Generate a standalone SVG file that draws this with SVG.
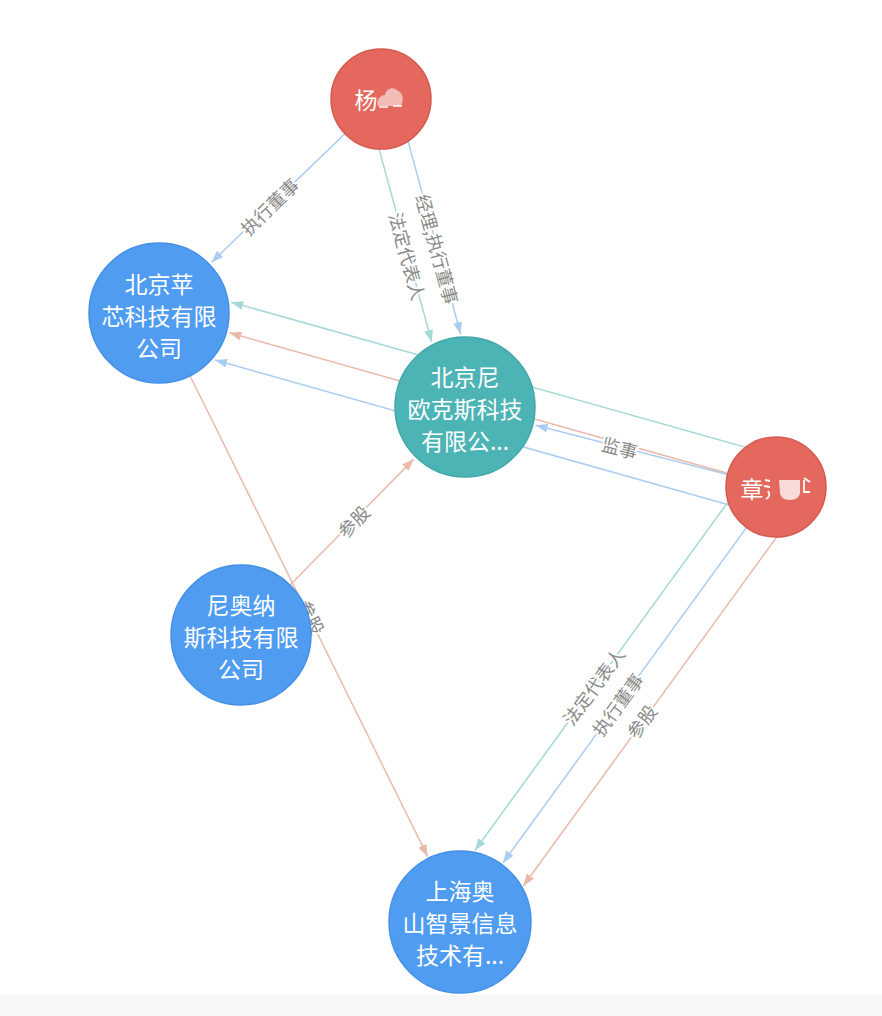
<svg xmlns="http://www.w3.org/2000/svg" width="882" height="1016" viewBox="0 0 882 1016">
<style>
.e{fill:none;stroke-width:1.5}
.eb{stroke:#a9cdf2}
.et{stroke:#a5d8d8}
.es{stroke:#ebb9aa}
.lbl{font-family:"Noto Sans CJK SC","Noto Sans",sans-serif;font-size:18px;fill:#8a8a8a;text-anchor:middle;dominant-baseline:central;stroke:#ffffff;stroke-width:4;paint-order:stroke;stroke-linejoin:round}
.nt{font-family:"Noto Sans CJK SC","Noto Sans",sans-serif;font-size:23px;fill:#ffffff;text-anchor:middle;dominant-baseline:central}
.blue{fill:#509cf1;stroke:#4590e6;stroke-width:1.5}
.teal{fill:#4db4b6;stroke:#41a7a9;stroke-width:1.5}
.red{fill:#e4685d;stroke:#d65a50;stroke-width:1.5}
</style>
<defs>
<marker id="ab" markerUnits="userSpaceOnUse" markerWidth="13" markerHeight="9" refX="12" refY="4.5" orient="auto"><path d="M0,0 L12,4.5 L0,9 z" fill="#a9cdf2"/></marker>
<marker id="at" markerUnits="userSpaceOnUse" markerWidth="13" markerHeight="9" refX="12" refY="4.5" orient="auto"><path d="M0,0 L12,4.5 L0,9 z" fill="#a5d8d8"/></marker>
<marker id="as" markerUnits="userSpaceOnUse" markerWidth="13" markerHeight="9" refX="12" refY="4.5" orient="auto"><path d="M0,0 L12,4.5 L0,9 z" fill="#ebb9aa"/></marker>
</defs>
<rect x="0" y="0" width="882" height="1016" fill="#ffffff"/>
<rect x="0" y="995" width="882" height="21" fill="#f7f7f7"/>
<g id="connectors">
<line class="e eb" x1="381" y1="99" x2="211.5" y2="262.3" marker-end="url(#ab)"/>
<line class="e et" x1="366.5" y1="102.9" x2="431.7" y2="342" marker-end="url(#at)"/>
<line class="e eb" x1="395.5" y1="95.1" x2="460.7" y2="334.2" marker-end="url(#ab)"/>
<line class="e et" x1="784.1" y1="458.1" x2="231.2" y2="302.2" marker-end="url(#at)"/>
<line class="e es" x1="776" y1="487" x2="229.3" y2="332.8" marker-end="url(#as)"/>
<line class="e eb" x1="767.9" y1="515.9" x2="215" y2="360" marker-end="url(#ab)"/>
<line class="e eb" x1="776" y1="487" x2="535.7" y2="425.2" marker-end="url(#ab)"/>
<line class="e et" x1="751.7" y1="469.4" x2="474.8" y2="850.6" marker-end="url(#at)"/>
<line class="e eb" x1="776" y1="487" x2="502.9" y2="862.9" marker-end="url(#ab)"/>
<line class="e es" x1="800.3" y1="504.6" x2="523.4" y2="885.8" marker-end="url(#as)"/>
<line class="e es" x1="159" y1="313" x2="427.7" y2="856.6" marker-end="url(#as)"/>
<line class="e es" x1="241" y1="635" x2="413.8" y2="459.1" marker-end="url(#as)"/>
<text class="lbl" transform="translate(269,206) rotate(-44)">执行董事</text>
<text class="lbl" transform="translate(408,256) rotate(74.7)">法定代表人</text>
<text class="lbl" transform="translate(438,249) rotate(74.7)">经理,执行董事</text>
<text class="lbl" transform="translate(620,447) rotate(14.4)">监事</text>
<text class="lbl" transform="translate(353,521) rotate(-45.5)">参股</text>
<text class="lbl" transform="translate(312,617) rotate(63.7)">参股</text>
<text class="lbl" transform="translate(593,686) rotate(-53.7)">法定代表人</text>
<text class="lbl" transform="translate(617,704) rotate(-53.7)">执行董事</text>
<text class="lbl" transform="translate(641,721) rotate(-53.7)">参股</text>
</g>
<g id="n-yang">
<circle class="red" cx="381" cy="99" r="50"/>
<text class="nt" x="366" y="99">杨</text>
<path d="M378,106 C376,100 380,95 385,95 C386,88 394,86 398,91 C403,92 404,100 401,106 Z" fill="#f3bcb7"/>
<path d="M379,107 L388,107 M393,106 L402,106" stroke="#ffffff" stroke-width="1.5"/>
</g>
<g id="n-zhang">
<circle class="red" cx="776" cy="487" r="50"/>
<text class="nt" x="752" y="488">章</text>
<path d="M765,480 L770,481 M764,486 L770,487 M768,491 C770,494 770,497 766,499" stroke="#ffffff" stroke-width="1.8" fill="none"/>
<path d="M779,480 L800,480 L800,492 C800,497 796,500 790,500 C784,500 780,497 780,492 Z" fill="#f7dcd9"/>
<path d="M804,478 L810,482 M804,480 L804,492 L810,492" stroke="#ffffff" stroke-width="1.8" fill="none"/>
</g>
<g id="n-bjpx">
<circle class="blue" cx="159" cy="313" r="70"/>
<text class="nt" x="159" y="283">北京苹</text>
<text class="nt" x="159" y="315">芯科技有限</text>
<text class="nt" x="159" y="347">公司</text>
</g>
<g id="n-bjnok">
<circle class="teal" cx="465" cy="407" r="70"/>
<text class="nt" x="465" y="376">北京尼</text>
<text class="nt" x="465" y="408">欧克斯科技</text>
<text class="nt" x="465" y="440">有限公...</text>
</g>
<g id="n-nan">
<circle class="blue" cx="241" cy="635" r="70"/>
<text class="nt" x="241" y="604">尼奥纳</text>
<text class="nt" x="241" y="636">斯科技有限</text>
<text class="nt" x="241" y="668">公司</text>
</g>
<g id="n-shas">
<circle class="blue" cx="460" cy="922" r="71"/>
<text class="nt" x="460" y="890">上海奥</text>
<text class="nt" x="460" y="922">山智景信息</text>
<text class="nt" x="460" y="954">技术有...</text>
</g>
</svg>
